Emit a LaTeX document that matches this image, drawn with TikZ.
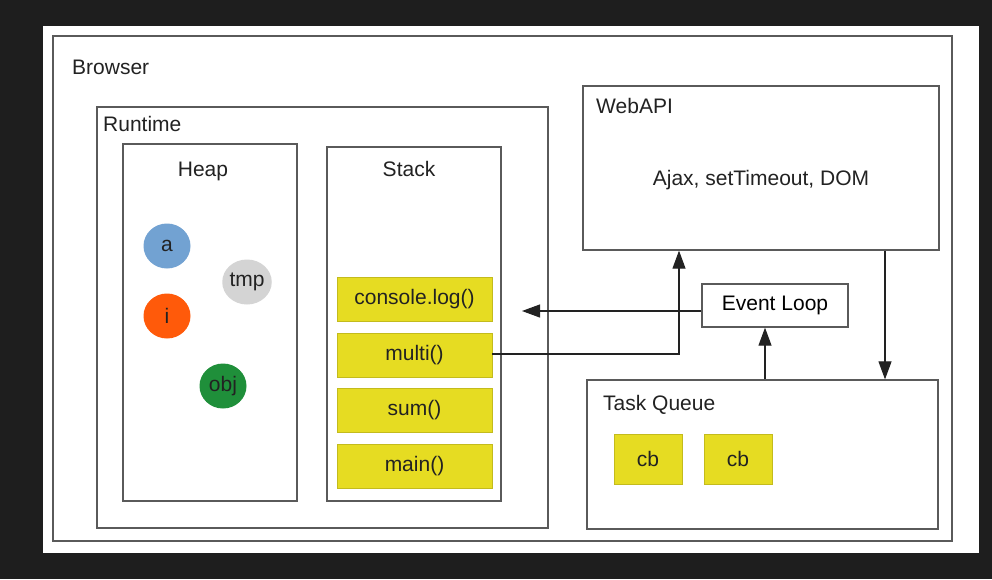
\documentclass[tikz,border=0pt]{standalone}
\usepackage{fontspec}
\setmainfont{Liberation Sans}
\usetikzlibrary{arrows.meta,shapes.geometric}
\definecolor{bgdark}{HTML}{1E1E1E}
\definecolor{frame}{HTML}{5A5A5A}
\definecolor{txt}{HTML}{222222}
\definecolor{itemyellow}{HTML}{E6DC22}
\definecolor{vara}{HTML}{72A2D2}
\definecolor{vari}{HTML}{FF5A0A}
\definecolor{vartmp}{HTML}{D4D4D4}
\definecolor{varobj}{HTML}{1F8F3A}
\tikzset{
	box/.style={draw=frame, line width=1.3pt, fill=white, inner sep=0pt},
	item/.style={draw=itemyellow!85!black, line width=0.4pt, fill=itemyellow, inner sep=0pt, minimum width=155pt, minimum height=44pt, text=txt},
	cbbox/.style={item, minimum width=68pt, minimum height=50pt},
	var/.style={ellipse, inner sep=0pt, minimum width=47pt, minimum height=45pt, text=txt},
	label/.style={text=txt, inner sep=0pt},
	flow/.style={draw=txt, line width=1.1pt, -{Triangle[length=18pt,width=13pt]}}
}
\begin{document}
\begin{tikzpicture}[x=1pt, y=-1pt, font=\fontsize{21}{25}\selectfont]
				\useasboundingbox (0, 0) rectangle (992, 579);
				\fill[bgdark] (0, 0) rectangle (992, 579);
				\fill[white] (43, 26) rectangle (979, 553);
				\node[box, minimum width=899pt, minimum height=505pt] (browser) at (502.5, 288.5) {};
				\node[box, minimum width=451pt, minimum height=421pt] (runtime) at (322.5, 317.5) {};
				\node[box, minimum width=174pt, minimum height=357pt] (heap) at (210, 322.5) {};
				\node[box, minimum width=174pt, minimum height=354pt] (stack) at (414, 324) {};
				\node[box, minimum width=356pt, minimum height=164pt] (webapi) at (761, 168) {};
				\node[box, minimum width=146pt, minimum height=43pt] (eventloop) at (775, 305.5) {Event Loop};
				\node[box, minimum width=351pt, minimum height=149pt] (taskqueue) at (762.5, 454.5) {};
				\node[label, anchor=base west] (browserlabel) at (72, 74) {Browser};
				\node[label, anchor=base west] (runtimelabel) at (103, 131) {Runtime};
				\node[label, anchor=base] (heaplabel) at (203, 176) {Heap};
				\node[label, anchor=base] (stacklabel) at (409, 176) {Stack};
				\node[label, anchor=base west] (webapilabel) at (596, 113) {WebAPI};
				\node[label, anchor=base] (webapitext) at (761, 185) {Ajax, setTimeout, DOM};
				\node[label, anchor=base west] (taskqueuelabel) at (603, 410) {Task Queue};
				\node[var, fill=vara] (a) at (167, 246) {a};
				\node[var, fill=vartmp] (tmp) at (247, 282) {tmp};
				\node[var, fill=vari] (i) at (167, 316) {i};
				\node[var, fill=varobj] (obj) at (223, 386) {obj};
				\node[item] (consolelog) at (414.5, 299) {console.log()};
				\node[item] (multi) at (414.5, 355.5) {multi()};
				\node[item] (sum) at (414.5, 410) {sum()};
				\node[item] (main) at (414.5, 466) {main()};
				\node[cbbox] (cbone) at (648, 459) {cb};
				\node[cbbox] (cbtwo) at (738, 459) {cb};
				\coordinate (logtip) at (522, 311);
				\coordinate (callup) at (679, 354);
				\coordinate (looptap) at (765, 0);
				\coordinate (queuetap) at (885, 0);
				\draw[flow] (eventloop.west |- logtip) -- (logtip);
				\draw[flow] (multi.east |- callup) -- (callup) -- (callup |- webapi.south);
				\draw[flow] (taskqueue.north -| looptap) -- (eventloop.south -| looptap);
				\draw[flow] (webapi.south -| queuetap) -- (taskqueue.north -| queuetap);
			\end{tikzpicture}
\end{document}
